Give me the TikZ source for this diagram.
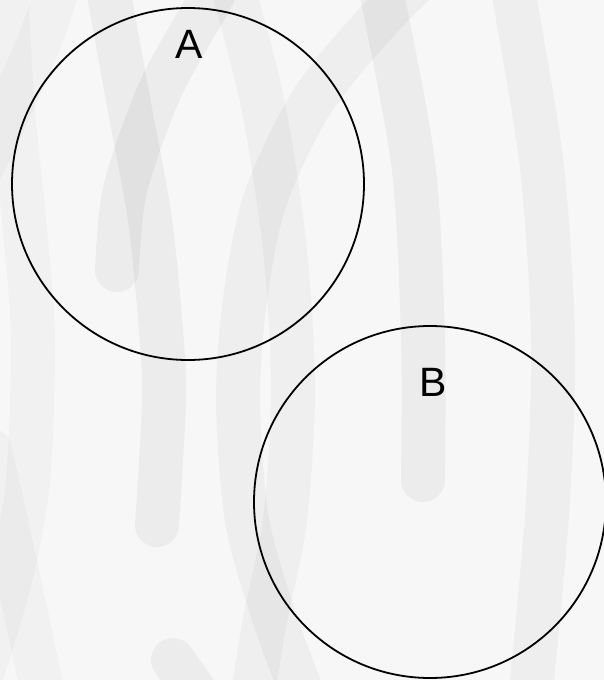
\documentclass[tikz,border=0pt]{standalone}
\usepackage{fontspec}
\setmainfont{Liberation Sans}
\definecolor{bgcol}{HTML}{F7F7F7}
\tikzset{
  band/.style={line width=44pt, line cap=round, draw=black, draw opacity=#1},
  band/.default=0.045,
  setcircle/.style={circle, draw=black, line width=1.8pt, minimum size=352pt, inner sep=0pt},
  setlabel/.style={font=\fontsize{41}{48}\selectfont, inner sep=0pt, text=black}
}
\begin{document}
\begin{tikzpicture}[x=1pt,y=-1pt]
\fill[bgcol] (0,0) rectangle (604,680);
\useasboundingbox (0,0) rectangle (604,680);
\begin{scope}
\clip (0,0) rectangle (604,680);
% decorative background strokes
\draw[band=0.035] plot[smooth] coordinates {(440,-40) (385,13) (313,100) (265,200) (245,300) (238,400) (247,520) (275,620) (305,700)};
\draw[band=0.03] plot[smooth] coordinates {(225,-40) (262,100) (285,250) (293,390) (285,520) (265,620) (252,700)};
\draw[band=0.045] plot[smooth] coordinates {(423,480) (423,340) (414,170) (383,0) (372,-40)};
\draw[band=0.045] plot[smooth] coordinates {(117,270) (125,190) (160,90) (210,0) (230,-40)};
\draw[band=0.045] plot[smooth] coordinates {(157,525) (164,400) (161,330) (150,220) (130,110) (110,0) (103,-40)};
\draw[band=0.045] (173,660) -- (215,720);
\draw[band=0.035] plot[smooth] coordinates {(510,-40) (515,0) (542,167) (553,340) (548,500) (532,680) (525,720)};
\draw[band=0.022] plot[smooth] coordinates {(5,-40) (12,100) (25,230) (33,340) (28,480) (10,580) (-20,680)};
\draw[band=0.022] plot[smooth] coordinates {(-10,450) (10,540) (40,680) (45,720)};
\draw[band=0.022] plot[smooth] coordinates {(60,-20) (40,40) (0,130) (-20,170)};
\end{scope}
% sets
\node[setcircle] (A) at (188,184) {};
\node[setcircle] (B) at (430,502) {};
\node[setlabel] (labA) at (189,44) {A};
\node[setlabel] (labB) at (433,382) {B};
\end{tikzpicture}
\end{document}
